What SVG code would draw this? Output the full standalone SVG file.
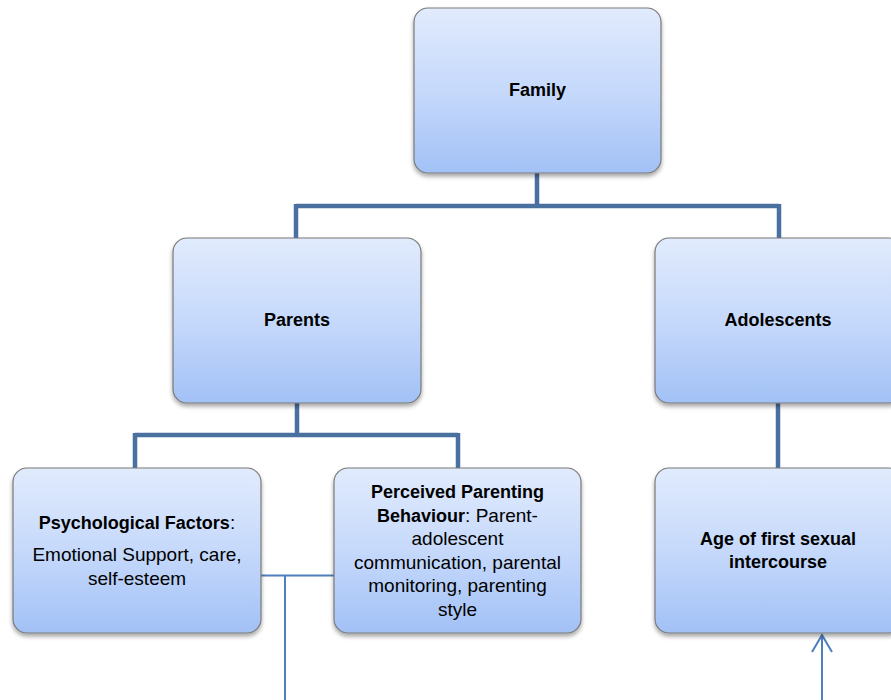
<svg xmlns="http://www.w3.org/2000/svg" width="891" height="700" viewBox="0 0 891 700">
<defs>
<linearGradient id="g" x1="0" y1="0" x2="0" y2="1">
<stop offset="0" stop-color="#e1ebfd"/>
<stop offset="0.5" stop-color="#c6d9fb"/>
<stop offset="1" stop-color="#a2c1f6"/>
</linearGradient>
<filter id="sh" x="-10%" y="-10%" width="120%" height="125%">
<feDropShadow dx="0" dy="3" stdDeviation="2" flood-color="#000" flood-opacity="0.35"/>
</filter>
</defs>
<style>
.box{fill:url(#g);stroke:#7a7a7a;stroke-width:1.2;filter:url(#sh)}
.t{font-family:"Liberation Sans",Arial,sans-serif;fill:#000;text-anchor:middle}
.b{font-weight:bold;font-size:18px}
.r{font-size:19px}
.thick{fill:none;stroke:#4a70a0;stroke-width:4.5}
.thin{fill:none;stroke:#4f7fbd;stroke-width:2}
</style>
<rect width="891" height="700" fill="#fff"/>
<g id="connectors">
<path class="thick" d="M537 172 V206 M296 206 H779 M296 204 V239 M779 204 V239"/>
<path class="thick" d="M297 403 V435 M135 435 H458 M135 433 V469 M458 433 V469"/>
<path class="thick" d="M778 403 V469"/>
<path class="thin" d="M261 575.5 H334 M285 575.5 V700"/>
<path class="thin" d="M822 700 V635 M812 652 L822 635 L832 652"/>
</g>
<g id="family">
<rect class="box" x="414" y="8" width="247" height="165" rx="14"/>
<text class="t b" x="537.5" y="96">Family</text>
</g>
<g id="parents">
<rect class="box" x="173" y="238" width="248" height="165" rx="14"/>
<text class="t b" x="297" y="326">Parents</text>
</g>
<g id="adolescents">
<rect class="box" x="655" y="238" width="248" height="165" rx="14"/>
<text class="t b" x="778" y="326">Adolescents</text>
</g>
<g id="psychological">
<rect class="box" x="13" y="468" width="248" height="165" rx="14"/>
<text class="t" x="137" y="529"><tspan class="b">Psychological Factors</tspan><tspan class="r">:</tspan></text>
<text class="t r" x="137" y="561">Emotional Support, care,</text>
<text class="t r" x="137" y="585">self-esteem</text>
</g>
<g id="perceived">
<rect class="box" x="334" y="468" width="247" height="165" rx="14"/>
<text class="t b" x="457.5" y="498">Perceived Parenting</text>
<text class="t" x="457.5" y="521.5"><tspan class="b">Behaviour</tspan><tspan class="r">: Parent-</tspan></text>
<text class="t r" x="457.5" y="545">adolescent</text>
<text class="t r" x="457.5" y="568.5">communication, parental</text>
<text class="t r" x="457.5" y="592">monitoring, parenting</text>
<text class="t r" x="457.5" y="615.5">style</text>
</g>
<g id="age">
<rect class="box" x="655" y="468" width="248" height="165" rx="14"/>
<text class="t b" x="778" y="545">Age of first sexual</text>
<text class="t b" x="778" y="568">intercourse</text>
</g>
</svg>
